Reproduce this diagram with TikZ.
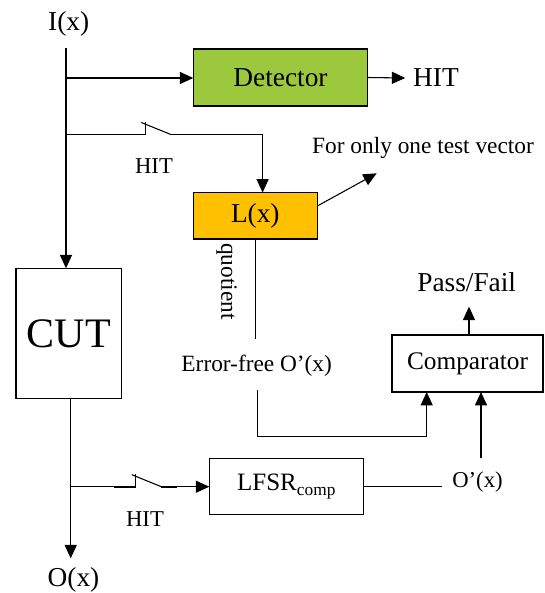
\documentclass[tikz,border=0pt]{standalone}
\usepackage{fontspec}
\setmainfont{Liberation Serif}
\usetikzlibrary{arrows.meta,calc}
\definecolor{detgreen}{RGB}{155,200,60}
\definecolor{lxorange}{RGB}{255,192,0}
\newcommand{\fsz}[1]{\fontsize{#1}{#1}\selectfont}
\tikzset{
  wire/.style={line width=0.8pt},
  arr/.style={wire,-{Triangle[length=10pt,width=9pt]}},
  box/.style={draw,line width=1pt,inner sep=0pt,outer sep=0pt},
  contact/.style={line width=1.4pt},
  lbl/.style={inner sep=0pt},
  swtch/.pic={
    \coordinate (-l) at (0,0);
    \coordinate (-r) at (62.5,0);
    \draw[contact] (0,0) -- (22,0);
    \draw[wire] (21.5,0) -- (21.5,-13);
    \draw[wire] (17.5,-12) -- (47,0);
    \draw[contact] (47,0) -- (62.5,0);
  }
}
\begin{document}
\begin{tikzpicture}[x=0.75pt,y=-0.75pt]
\useasboundingbox (0,0) rectangle (544,593);

% nodes
\node[lbl,font=\fsz{20.5}] (ix) at (68.7,24) {I(x)};
\node[box,fill=detgreen,minimum width=174.5*0.75pt,minimum height=57*0.75pt,font=\fsz{20.5}] (det) at (280.5,77.5) {Detector};
\node[lbl,font=\fsz{20.5}] (hit) at (436,78) {HIT};
\node[box,fill=lxorange,minimum width=124.2*0.75pt,minimum height=46.5*0.75pt,font=\fsz{20.5}] (lx) at (255.3,215.8) {L(x)};
\node[lbl,font=\fsz{17.5}] (tv) at (423,148) {For only one test vector};
\node[lbl,font=\fsz{17}] (hit1) at (154,166) {HIT};
\node[box,minimum width=105.7*0.75pt,minimum height=130*0.75pt,font=\fsz{31.5}] (cut) at (68.9,333.3) {CUT};
\node[lbl,font=\fsz{17.5},rotate=-90] (quo) at (226.5,281.5) {quotient};
\node[lbl,font=\fsz{17.5}] (ef) at (256.7,366) {Error-free O’(x)};
\node[lbl,font=\fsz{20.5}] (pf) at (466.7,281.7) {Pass/Fail};
\node[box,minimum width=151*0.75pt,minimum height=57*0.75pt,font=\fsz{19}] (cmp) at (467.5,363.5) {Comparator};
\node[box,minimum width=154*0.75pt,minimum height=56*0.75pt,font=\fsz{18.75}] (lfsr) at (286.3,486.3) {LFSR\raisebox{-3.5pt}{\fsz{13}comp}};
\node[lbl,font=\fsz{17}] (o2) at (477.5,481.7) {O’(x)};
\node[lbl,font=\fsz{17}] (hit2) at (145,519.3) {HIT};
\node[lbl,font=\fsz{20.5}] (ox) at (73.5,580) {O(x)};

% input and detector
\coordinate (in) at (66,48.3);
\draw[arr] (in) -- (in |- cut.north);
\coordinate (j1) at (66,78);
\draw[arr] (j1) -- (j1 -| det.west);
\draw[arr] (det.east) -- ([xshift=-5.8pt]hit.west);

% top switch to L(x)
\coordinate (j2) at (66,134.5);
\pic (s1) at (123.8,134.5) {swtch};
\draw[wire] (j2) -- (s1-l);
\coordinate (k1) at (262.6,134.5);
\draw[arr] (s1-r) -- (k1) -- (k1 |- lx.north);

% L(x) outputs
\coordinate (tvtip) at (376.7,173.3);
\draw[arr] (lx.9) -- (tvtip);
\coordinate (qe) at (255.3,339);
\draw[wire] (lx.south) -- (qe);

% error-free to comparator
\coordinate (efs) at (257.4,390);
\draw[arr] (efs) -- ++(0,46.7) -| ($(cmp.south west)+(34.7,0)$);

% pass/fail
\coordinate (pft) at (469,306.7);
\draw[arr] (pft |- cmp.north) -- (pft);

% O'(x) to comparator
\coordinate (o2t) at (481,458);
\draw[arr] (o2t) -- (o2t |- cmp.south);
\coordinate (le) at (441.7,486.7);
\draw[wire] (lfsr.east) -- (lfsr.east -| le);

% CUT output
\coordinate (otip) at (70.7,558.3);
\draw[arr] (cut.south -| otip) -- (otip);
\coordinate (j3) at (70.7,486.7);
\pic (s2) at (114.3,486.7) {swtch};
\draw[wire] (j3) -- (s2-l);
\draw[arr] (s2-r) -- (s2-r -| lfsr.west);
\end{tikzpicture}
\end{document}
